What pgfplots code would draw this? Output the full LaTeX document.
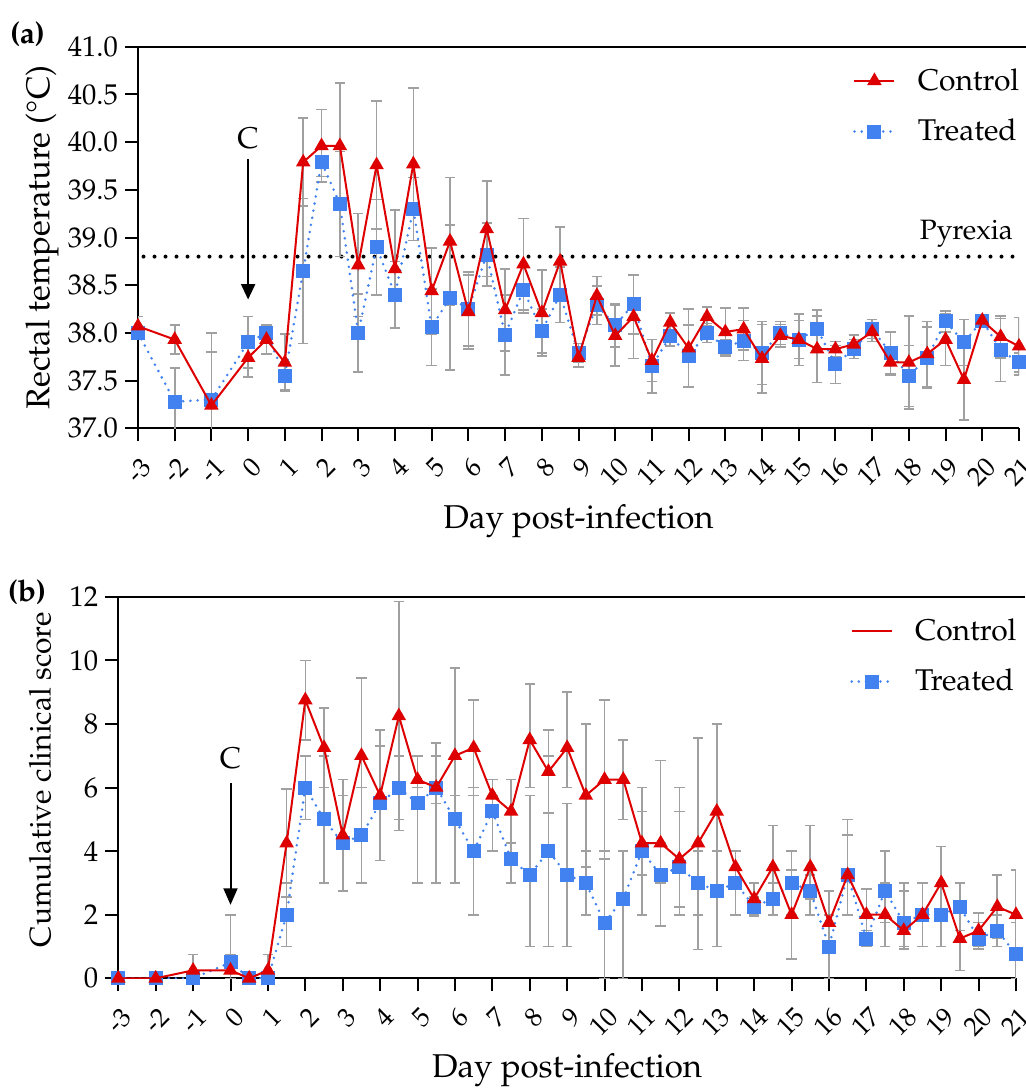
\documentclass[border=0pt]{standalone}
\usepackage[T1]{fontenc}
\usepackage{mathpazo}
\usepackage{textcomp}
\usepackage{pgfplots}
\usepackage{pgfplotstable}
\pgfplotsset{compat=1.18}
\usetikzlibrary{arrows.meta}

\definecolor{ctrlred}{RGB}{222,0,0}
\definecolor{trtblue}{RGB}{66,130,240}
\definecolor{errgray}{RGB}{160,160,160}

\pgfplotstableread{
x c ce t te
-3 38.07 0.10 38.00 0.07
-2 37.93 0.15 37.28 0.35
-1 37.24 0.76 37.30 0.50
0 37.74 0.20 37.90 0.27
0.5 37.93 0.15 38.00 0.08
1 37.69 0.30 37.55 0.15
1.5 39.79 0.46 38.65 0.76
2 39.96 0.38 39.79 0.15
2.5 39.96 0.66 39.35 0.55
3 38.71 0.54 38.00 0.41
3.5 39.76 0.67 38.90 0.50
4 38.67 0.62 38.40 0.35
4.5 39.77 0.80 39.30 0.33
5 38.44 0.45 38.06 0.40
5.5 38.96 0.67 38.37 0.76
6 38.22 0.39 38.25 0.39
6.5 39.09 0.50 38.82 0.33
7 38.24 0.43 37.98 0.42
7.5 38.72 0.48 38.45 0.24
8 38.21 0.45 38.02 0.23
8.5 38.75 0.36 38.40 0.29
9 37.74 0.10 37.79 0.10
9.5 38.39 0.20 38.29 0.20
10 37.97 0.32 38.08 0.23
10.5 38.17 0.44 38.30 0.31
11 37.71 0.22 37.65 0.28
11.5 38.11 0.10 37.97 0.11
12 37.84 0.41 37.76 0.32
12.5 38.17 0.10 38.00 0.10
13 38.01 0.25 37.85 0.08
13.5 38.04 0.22 37.92 0.21
14 37.73 0.36 37.79 0.33
14.5 37.97 0.12 38.00 0.12
15 37.93 0.27 37.93 0.20
15.5 37.83 0.35 38.04 0.20
16 37.83 0.08 37.67 0.20
16.5 37.88 0.10 37.83 0.10
17 38.01 0.10 38.04 0.10
17.5 37.69 0.13 37.79 0.22
18 37.69 0.49 37.55 0.32
18.5 37.78 0.34 37.74 0.32
19 37.93 0.27 38.12 0.11
19.5 37.51 0.42 37.90 0.24
20 38.13 0.05 38.13 0.05
20.5 37.96 0.22 37.82 0.33
21 37.86 0.30 37.69 0.10
}\tempdata

\pgfplotstableread{
x c cp cm t tp tm
-3 0 0 0 0 0 0
-2 0 0 0 0 0 0
-1 0.25 0.5 0.25 0 0 0
0 0.25 0.5 0.25 0.5 1.5 0.5
0.5 0 0 0 0 0 0
1 0.25 0.5 0.25 0 0 0
1.5 4.25 1.7 1.7 2 1 1
2 8.75 1.25 1.25 6 1 1
2.5 7.25 1.25 1.25 5 2 2
3 4.5 1.75 1.75 4.25 1.5 1.5
3.5 7 2.45 2.45 4.5 1.5 1.5
4 5.75 2.05 2.05 5.5 1.8 1.8
4.5 8.25 3.6 3.6 6 1 1
5 6.25 0.75 0.75 5.5 0.5 2.5
5.5 6.0 1.4 0.5 6.0 1.0 3.0
6 7.0 2.75 1.25 5.0 0.75 2.0
6.5 7.25 1.5 1.5 4.0 2.0 2.0
7 5.75 0.5 0.5 5.25 0.5 1.25
7.5 5.25 1.0 1.0 3.75 0.5 0.75
8 7.5 1.75 1.5 3.25 2.5 2.25
8.5 6.5 1.3 1.3 4.0 3.0 3.0
9 7.25 1.75 1.25 3.25 2.25 2.25
9.5 5.75 2.25 2.25 3.0 1.0 1.0
10 6.25 2.5 2.5 1.75 2.25 1.75
10.5 6.25 1.25 1.25 2.5 1.5 2.5
11 4.25 1.75 1.0 4.0 1.25 2.0
11.5 4.25 2.6 1.25 3.25 1.0 1.6
12 3.75 2.25 1.5 3.5 1.75 1.5
12.5 4.25 3.3 2.25 3.0 1.0 2.1
13 5.25 2.75 1.25 2.75 1.25 1.75
13.5 3.5 0.5 0.5 3.0 1.0 1.0
14 2.5 0.5 0.5 2.25 0.3 0.3
14.5 3.5 1.3 1.0 2.5 0.5 0.5
15 2.0 1.4 1.4 3.0 1.0 1.0
15.5 3.5 1.3 1.0 2.75 0.5 0.75
16 1.75 1.0 0.75 1.0 1.0 1.0
16.5 3.25 1.75 1.25 3.25 1.25 1.25
17 2.0 0.8 0.8 1.25 0.25 0.25
17.5 2.0 1.0 1.0 2.75 1.25 1.0
18 1.5 1.5 0.5 1.75 1.0 0.83
18.5 2.0 1.0 1.0 2.0 1.0 1.0
19 3.0 1.15 1.15 2.0 1.0 1.0
19.5 1.25 1.0 1.0 2.25 0.75 0.75
20 1.5 0.55 0.5 1.25 0.5 0.33
20.5 2.25 1.0 1.0 1.5 0.5 0.5
21 2.0 1.4 1.4 0.75 1.0 0.75
}\scoredata

\pgfplotsset{
  commonstyle/.style={
    scale only axis,
    xmin=-3, xmax=21,
    axis x line*=bottom, axis y line*=left,
    axis line style={line width=1pt, black},
    tick align=outside,
    major tick length=6.5pt,
    every tick/.style={black, line width=1pt},
    xtick={-3,-2,...,21},
    xticklabels={-3,-2,-1,0,1,2,3,4,5,6,7,8,9,10,11,12,13,14,15,16,17,18,19,20,21},
    xticklabel style={rotate=45, anchor=east, font=\fontsize{13.3}{13.3}\selectfont, xshift=-1pt, yshift=-10.5pt},
    yticklabel style={font=\fontsize{14.3}{14.3}\selectfont},
    label style={font=\fontsize{16.5}{16.5}\selectfont},
    clip mode=individual,
    legend cell align=left,
    legend style={draw=none, fill=none, anchor=north east,
      font=\fontsize{15}{15}\selectfont, row sep=9pt,
      /tikz/every odd column/.append style={column sep=9pt}},
    legend image code/.code={\draw[mark repeat=2,mark phase=2] plot coordinates {(0pt,0pt)(10pt,0pt)(20pt,0pt)};},
  },
  errstyle/.style={errgray, only marks, mark=none, forget plot,
    error bars/y dir=both, error bars/y explicit,
    error bars/error bar style={errgray, line width=0.8pt},
    error bars/error mark options={rotate=90, errgray, mark size=2.6pt, line width=0.8pt}},
  ctrlstyle/.style={ctrlred, line width=1pt, mark=triangle*, mark size=3.2pt, mark options={solid, fill=ctrlred, draw=ctrlred}},
  trtstyle/.style={trtblue, line width=1.4pt, line cap=round, dash pattern=on 0pt off 3.6pt, mark=square*, mark size=2.8pt, mark options={solid, fill=trtblue, draw=trtblue}},
}

\begin{document}
\begin{tikzpicture}
\path[use as bounding box] (0pt,0pt) rectangle (512.5pt,-544pt);

\node[font=\bfseries\fontsize{15}{15}\selectfont] at (13.75pt,-17pt) {(a)};
\node[font=\bfseries\fontsize{15}{15}\selectfont] at (13.5pt,-296pt) {(b)};

% Panel (a)
\begin{axis}[commonstyle,
  at={(69pt,-214.15pt)}, anchor=south west,
  width=440.5pt, height=190.8pt,
  ymin=37, ymax=41,
  ytick={37,37.5,...,41},
  yticklabel style={/pgf/number format/.cd, fixed, fixed zerofill, precision=1},
  ylabel={Rectal temperature (\textdegree C)},
  ylabel style={at={(axis description cs:-0.109,0.5)}, anchor=center},
  xlabel={Day post-infection},
  xlabel style={at={(axis description cs:0.5,-0.244)}, anchor=center},
  legend style={at={(rel axis cs:1.012,0.965)}},
  reverse legend,
]
\draw[line width=1pt] (rel axis cs:0,1) -- (rel axis cs:1.01,1);
\addplot[black, line width=2pt, line cap=round, dash pattern=on 0pt off 5.5pt, forget plot] coordinates {(-2.85,38.8) (21.1,38.8)};
\node[anchor=south east, font=\fontsize{14}{14}\selectfont, inner sep=1pt] at (axis cs:20.9,38.87) {Pyrexia};
\addplot[errstyle] table[x=x, y=c, y error=ce] {\tempdata};
\addplot[errstyle] table[x=x, y=t, y error=te] {\tempdata};
\addplot[trtstyle] table[x=x, y=t] {\tempdata};
\addlegendentry{Treated}
\addplot[ctrlstyle] table[x=x, y=c] {\tempdata};
\addlegendentry{Control}
\node[font=\fontsize{15}{15}\selectfont] at (axis cs:0,40.04) {C};
\draw[line width=1pt, -{Triangle[length=7.7pt, width=7pt]}] (axis cs:0,39.82) -- (axis cs:0,38.35);
\end{axis}

% Panel (b)
\begin{axis}[commonstyle,
  at={(59.15pt,-489.15pt)}, anchor=south west,
  width=448.85pt, height=190.8pt,
  ymin=0, ymax=12,
  ytick={0,2,...,12},
  ylabel={Cumulative clinical score},
  ylabel style={at={(axis description cs:-0.087,0.52)}, anchor=center, font=\fontsize{15}{15}\selectfont},
  xlabel={Day post-infection},
  xlabel style={at={(axis description cs:0.5,-0.241)}, anchor=center},
  legend style={at={(rel axis cs:1.012,0.965)}},
  reverse legend,
]
\draw[line width=1pt] (rel axis cs:0,1) -- (rel axis cs:1.01,1);
\addplot[errstyle] table[x=x, y=c, y error plus=cp, y error minus=cm] {\scoredata};
\addplot[errstyle] table[x=x, y=t, y error plus=tp, y error minus=tm] {\scoredata};
\addplot[trtstyle] table[x=x, y=t] {\scoredata};
\addlegendentry{Treated}
\addplot[ctrlstyle, legend image code/.code={\draw[ctrlred, line width=1pt] (0pt,0pt) -- (20pt,0pt);}] table[x=x, y=c] {\scoredata};
\addlegendentry{Control}
\node[font=\fontsize{15}{15}\selectfont] at (axis cs:0,6.92) {C};
\draw[line width=1pt, -{Triangle[length=8.3pt, width=7pt]}] (axis cs:0,6.13) -- (axis cs:0,2.31);
\end{axis}
\end{tikzpicture}
\end{document}
